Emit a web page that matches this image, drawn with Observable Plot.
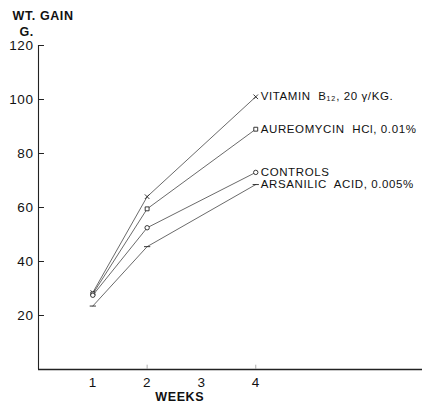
<!DOCTYPE html>
<html>
<head>
<meta charset="utf-8">
<script src="https://cdn.jsdelivr.net/npm/d3@7"></script>
<script src="https://cdn.jsdelivr.net/npm/@observablehq/plot@0.6"></script>
<style>
  html, body { margin: 0; padding: 0; background: #fff; }
  svg { display: block; }
  svg text { letter-spacing: 0.6px; }
</style>
</head>
<body>
<div id="chart"></div>
<script>
const weeks = [1, 2, 4];
const series = ["VITAMIN  B₁₂, 20 γ/KG.", "AUREOMYCIN  HCl, 0.01%", "CONTROLS", "ARSANILIC  ACID, 0.005%"];
const vitaminB12 = [28.5, 64, 101];
const aureomycin = [28, 59.5, 89];
const controls = [27.5, 52.5, 73];
const arsanilic = [23.5, 45.5, 68.5];
const yTicks = [20, 40, 60, 80, 100, 120];
const xTicks = [1, 2, 3, 4];

const valuesBySeries = [vitaminB12, aureomycin, controls, arsanilic];
const data = [];
series.forEach((s, i) => weeks.forEach((w, j) => data.push({series: s, week: w, gain: valuesBySeries[i][j]})));
const lastPoints = data.filter(d => d.week === 4);

const dash = {draw(ctx, size) { const r = Math.sqrt(size) * 0.8; ctx.moveTo(-r, 0); ctx.lineTo(r, 0); }};
const symbolFor = {
  [series[0]]: "times",
  [series[1]]: "square",
  [series[2]]: "circle",
  [series[3]]: dash
};

const font = "Liberation Sans, Arial, sans-serif";

const chart = Plot.plot({
  width: 426,
  height: 403,
  marginLeft: 38,
  marginRight: 4,
  marginTop: 45,
  marginBottom: 34,
  style: {fontFamily: font, background: "#fff", color: "#111"},
  x: {domain: [0, 7.07], axis: null},
  y: {domain: [0, 120], axis: null},
  symbol: {domain: series, range: series.map(s => symbolFor[s])},
  marks: [
    Plot.ruleX([0], {y1: 0, y2: 120, stroke: "#222", strokeWidth: 1.1}),
    Plot.ruleY([0], {x1: 0, x2: 7.07, stroke: "#222", strokeWidth: 1.4}),
    Plot.ruleY(yTicks, {x1: 0, x2: 0.11, stroke: "#222", strokeWidth: 1}),
    Plot.ruleX([2, 4], {y1: 0, y2: 1.6, stroke: "#999", strokeWidth: 0.8}),
    Plot.text(yTicks, {x: 0, y: d => d, text: d => String(d), textAnchor: "end", dx: -5, fontSize: 13.5, fill: "#111"}),
    Plot.text(xTicks, {x: d => d, y: 0, text: d => String(d), dy: 13, fontSize: 13.5, fill: "#111"}),
    Plot.text(["WEEKS"], {x: 2.6, y: 0, text: d => d, dy: 27, fontSize: 12.5, fontWeight: 600, fill: "#111"}),
    Plot.text(["WT. GAIN"], {frameAnchor: "top-left", lineAnchor: "middle", textAnchor: "start", dx: -26, dy: -30, fontSize: 12.5, fontWeight: 600, fill: "#111", text: d => d}),
    Plot.text(["G."], {frameAnchor: "top-left", lineAnchor: "middle", textAnchor: "start", dx: -19, dy: -14, fontSize: 12.5, fontWeight: 600, fill: "#111", text: d => d}),
    Plot.line(data, {x: "week", y: "gain", z: "series", stroke: "#444", strokeWidth: 0.8}),
    Plot.dot(data, {x: "week", y: "gain", symbol: "series", r: 2.2, stroke: "#222", strokeWidth: 0.9, fill: "#fff"}),
    Plot.text(lastPoints, {x: "week", y: "gain", text: "series", textAnchor: "start", dx: 5, fontSize: 11.5, fill: "#111"})
  ]
});
document.getElementById("chart").append(chart);
</script>
</body>
</html>
